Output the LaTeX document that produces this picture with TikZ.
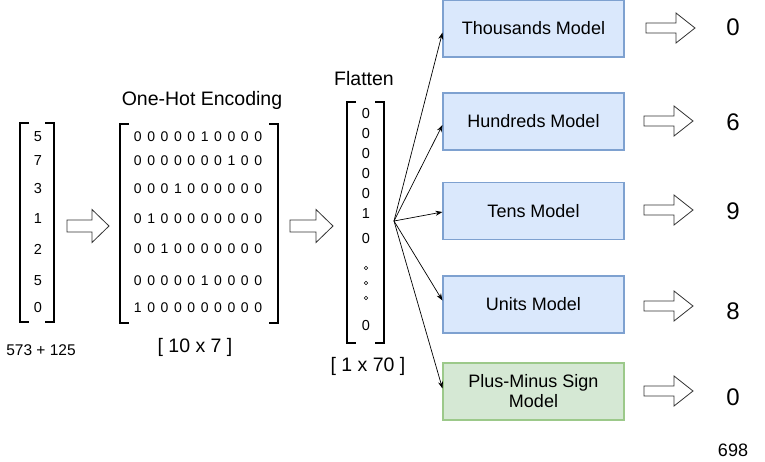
\documentclass[tikz,border=0pt]{standalone}
\usepackage{fontspec}
\setmainfont{Liberation Sans}
\usetikzlibrary{arrows.meta}
\definecolor{blueF}{HTML}{DAE8FC}
\definecolor{blueS}{HTML}{7EA1D0}
\definecolor{greenF}{HTML}{D5E8D4}
\definecolor{greenS}{HTML}{9CC98A}
\newcommand\fsz[2]{\fontsize{#1}{#2}\selectfont}
\newcommand\harrow[6]{%
  \draw[harr] (#1,{#2-#4/2}) -- ({#3-#6},{#2-#4/2}) -- ({#3-#6},{#2-#5/2}) -- (#3,#2)
    -- ({#3-#6},{#2+#5/2}) -- ({#3-#6},{#2+#4/2}) -- (#1,{#2+#4/2}) -- cycle;}
\newcommand\mbrk[4]{%
  \draw[brk] ({#1+9},#3) -- (#1,#3) -- (#1,#4) -- ({#1+9},#4);
  \draw[brk] ({#2-9},#3) -- (#2,#3) -- (#2,#4) -- ({#2-9},#4);}
\begin{document}
\begin{tikzpicture}[x=1pt,y=-1pt,
  brk/.style={line width=2.6pt, line join=miter},
  harr/.style={draw=black!80, line width=0.8pt, fill=white, line join=miter},
  model/.style={draw=blueS, fill=blueF, line width=1.1pt, minimum width=181pt,
    minimum height=57pt, font=\fsz{18}{21}, align=center, inner sep=0pt},
  signm/.style={model, draw=greenS, fill=greenF},
  dig/.style={font=\fsz{14.5}{16}, inner sep=0pt},
  rowt/.style={font={\fsz{14}{16}\spaceskip=5.6pt plus 0pt minus 0pt\relax}, inner sep=0pt},
  lbl/.style={font=\fsz{19.5}{23}, inner sep=0pt},
  outn/.style={font=\fsz{24}{28}, inner sep=0pt},
  fanarr/.style={-{Stealth[length=7pt,width=5pt]}, line width=0.7pt},
  odot/.style={circle, draw, line width=0.6pt, inner sep=0pt, minimum size=3.6pt}]
\useasboundingbox (0,0) rectangle (765,461);

% input digits
\mbrk{20}{54}{123}{322}
\foreach \d/\y [count=\i] in {5/137,7/161,3/189,1/219,2/249,5/281,0/308}
  \node[dig] (in\i) at (38,\y) {\d};
\node[font=\fsz{15.5}{18}, inner sep=0pt] (sum) at (41,350) {573 + 125};

\harrow{67}{226}{109}{12}{33}{17}

% one-hot
\node[lbl] (ohlbl) at (202,100) {One-Hot Encoding};
\mbrk{120}{278}{124}{323}
\foreach \r/\y [count=\i] in {0 0 0 0 0 1 0 0 0 0/137,0 0 0 0 0 0 0 1 0 0/161,0 0 0 1 0 0 0 0 0 0/189,0 1 0 0 0 0 0 0 0 0/219,0 0 1 0 0 0 0 0 0 0/249,0 0 0 0 0 1 0 0 0 0/281,1 0 0 0 0 0 0 0 0 0/308}
  \node[rowt] (oh\i) at (198,\y) {\r};
\node[lbl] (ohdim) at (195,347) {[ 10 x 7 ]};

\harrow{290}{226}{333}{12}{33}{17}

% flatten
\node[lbl] (fllbl) at (364,79) {Flatten};
\mbrk{347}{384}{102}{343}
\foreach \d/\y [count=\i] in {0/114,0/134,0/154,0/174,0/194,1/214,0/239,0/326}
  \node[dig] (fl\i) at (366,\y) {\d};
\foreach \y [count=\i] in {268,283,298}
  \node[odot] (dot\i) at (366,\y) {};
\node[lbl] (fldim) at (368,366) {[ 1 x 70 ]};

% models
\node[model] (thou) at (533.5,28.5) {Thousands Model};
\node[model] (hund) at (533.5,121.5) {Hundreds Model};
\node[model] (tens) at (533.5,211) {Tens Model};
\node[model] (unit) at (533.5,304.5) {Units Model};
\node[signm] (sign) at (533.5,391.5) {Plus-Minus Sign\\[-1pt]Model};

\coordinate (fan) at (394,221);
\draw[fanarr] (fan) -- ([yshift=-4pt]thou.west);
\draw[fanarr] (fan) -- ([yshift=-3.5pt]hund.west);
\draw[fanarr] (fan) -- ([yshift=-1pt]tens.west);
\draw[fanarr] (fan) -- ([yshift=4pt]unit.west);
\draw[fanarr] (fan) -- ([yshift=3pt]sign.west);

% outputs
\harrow{646}{28}{695}{10}{30}{19}
\harrow{644}{121}{693}{10}{30}{19}
\harrow{644}{210}{693}{10}{30}{19}
\harrow{644}{306}{693}{10}{30}{19}
\harrow{644}{391}{693}{10}{30}{19}

\node[outn] (o1) at (733,27) {0};
\node[outn] (o2) at (733,122) {6};
\node[outn] (o3) at (733,211) {9};
\node[outn] (o4) at (733,311) {8};
\node[outn] (o5) at (733,397) {0};
\node[font=\fsz{18}{21}, inner sep=0pt] (res) at (733,450) {698};
\end{tikzpicture}
\end{document}
